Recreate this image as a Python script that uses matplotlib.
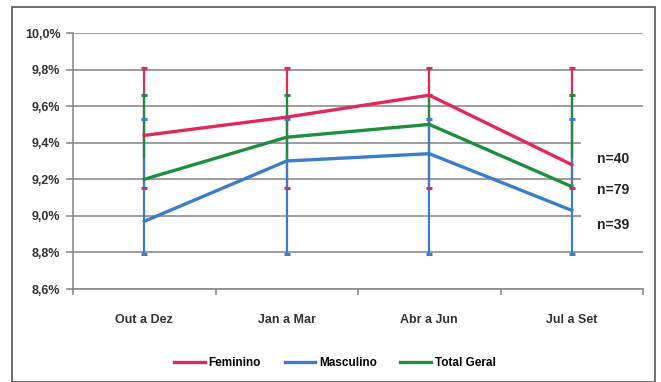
import matplotlib
matplotlib.use("Agg")
import matplotlib.pyplot as plt
from matplotlib.patches import Rectangle
from matplotlib.ticker import FuncFormatter

plt.rcParams["font.family"] = ["Liberation Sans", "DejaVu Sans"]

# dados
periodos = ["Out a Dez", "Jan a Mar", "Abr a Jun", "Jul a Set"]
feminino = [9.44, 9.54, 9.66, 9.28]
masculino = [8.97, 9.30, 9.34, 9.03]
total = [9.20, 9.43, 9.50, 9.16]

# barras de erro (limites absolutos, iguais em todos os períodos)
fem_lim = (9.15, 9.81)
mas_lim = (8.79, 9.53)
tot_lim = (9.32, 9.66)
tot_low_visivel = [9.32, 9.31, 9.50, 9.32]

n_labels = ["n=40", "n=79", "n=39"]
n_pos = [9.31, 9.14, 8.95]

VERMELHO = "#E2285A"
AZUL = "#3B7EC6"
VERDE = "#1E8E3E"
GRADE = "#8C8C8C"

fig = plt.figure(figsize=(6.61, 3.82), dpi=100)
fig.patches.append(Rectangle((12 / 661, 0.0), 643 / 661, 1 - 7 / 382,
                             transform=fig.transFigure, fill=False,
                             edgecolor="#555555", linewidth=1.2))
ax = fig.add_axes([73 / 661, 1 - 289 / 382, 570 / 661, 256 / 382])

x = list(range(len(periodos)))

# barras verticais
for xi, gl in zip(x, tot_low_visivel):
    ax.plot([xi, xi], fem_lim, color=VERMELHO, lw=1.6, zorder=3)
    ax.plot([xi, xi], mas_lim, color=AZUL, lw=1.6, zorder=4)
    ax.plot([xi, xi], (gl, tot_lim[1]), color=VERDE, lw=1.6, zorder=5)
# capuzes
cap = dict(marker="_", markersize=5, markeredgewidth=2.2, linestyle="none", zorder=6)
ax.plot(x, [fem_lim[0]] * 4, color=VERMELHO, **cap)
ax.plot(x, [fem_lim[1]] * 4, color=VERMELHO, **cap)
ax.plot(x, [mas_lim[0]] * 4, color=AZUL, **cap)
ax.plot(x, [mas_lim[1]] * 4, color=AZUL, **cap)
ax.plot(x, [tot_lim[1]] * 4, color=VERDE, **cap)

ax.plot(x, feminino, color=VERMELHO, lw=2.4, label="Feminino", zorder=7)
ax.plot(x, masculino, color=AZUL, lw=2.4, label="Masculino", zorder=7)
ax.plot(x, total, color=VERDE, lw=2.4, label="Total Geral", zorder=7)

ax.set_xlim(-0.5, 3.5)
ax.set_ylim(8.6, 10.0)
ax.set_yticks([8.6 + 0.2 * i for i in range(8)])
ax.yaxis.set_major_formatter(FuncFormatter(lambda v, p: "{:.1f}%".format(v).replace(".", ",")))
ax.grid(axis="y", color=GRADE, lw=1.2, zorder=1)
ax.set_axisbelow(True)
ax.set_xticks(x)
ax.set_xticklabels(periodos, fontsize=9, fontweight="bold", color="#333333")
ax.set_xticks([-0.5, 0.5, 1.5, 2.5, 3.5], minor=True)
ax.tick_params(axis="x", which="major", length=0, pad=18)
ax.tick_params(axis="x", which="minor", length=4, color=GRADE, width=1.2)
ax.tick_params(axis="y", length=5, color=GRADE, width=1.2, labelsize=9,
               labelcolor="#333333", pad=4)
for lab in ax.get_yticklabels():
    lab.set_fontweight("bold")
for s in ("top", "right"):
    ax.spines[s].set_visible(False)
ax.spines["left"].set_color(GRADE)
ax.spines["left"].set_linewidth(1.2)
ax.spines["bottom"].set_color(GRADE)
ax.spines["bottom"].set_linewidth(1.2)

for lab, yv in zip(n_labels, n_pos):
    ax.text(3.175, yv, lab, fontsize=10, fontweight="bold", color="#222222",
            va="center", ha="left", zorder=8,
            bbox=dict(facecolor="white", edgecolor="none", pad=11))

fig.legend(loc="center", bbox_to_anchor=(335 / 661, 1 - 363 / 382), ncol=3,
           frameon=False, handlelength=2.6, handletextpad=0.3,
           columnspacing=2.0, prop={"weight": "bold", "size": 8.5})

fig.savefig("out.png", dpi=100)
